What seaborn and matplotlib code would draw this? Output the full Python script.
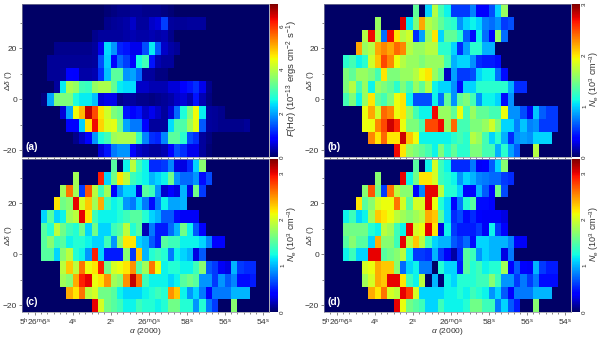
import numpy as np
import matplotlib
matplotlib.use("Agg")
import matplotlib.pyplot as plt
from matplotlib.colors import ListedColormap
import seaborn as sns

sns.set_theme(style="white")
plt.rcParams['font.family'] = ['Liberation Sans', 'DejaVu Sans']
plt.rcParams['mathtext.fontset'] = 'custom'
plt.rcParams['mathtext.rm'] = 'Liberation Sans'
plt.rcParams['mathtext.it'] = 'Liberation Sans:italic'

# F(Halpha), read by eye, 12 rows x 39 columns (missing right side is filled with 0)
flux_rows = [
    [0]*13 + [.1,.15,.2,.2,.25,.25,.2,.2,.2,.15,.1],
    [0]*13 + [.2,.25,.3,.35,.5,.3,.3,.5,.6,1.3,.3,.25,.25,.3,.3,.3],
    [0]*11 + [.2,.3,.3,.3,.3,.35,.4,.35,.35,.4,.35,.4,.2],
    [0]*5 + [.2,.2,.2,.2,.2,.2,.3,.7,2.4,1.9,1.1,1.0,.7,.7,1.4,2.5,1.5,.5,.35,.25],
    [0]*4 + [.25,.25,.25,.25,.25,.25,.25,.3,1.4,2.3,.9,1.6,1.3,.8,2.6,3.0,1.0,.4,.3,.3],
    [0]*4 + [.25,.25,.3,.9,.8,.35,.35,.4,1.2,2.2,3.2,3.2,1.9,2.0,1.6,.3,.3,.15,.15],
    [0]*5 + [.3,2.5,3.9,3.7,3.0,2.9,3.7,3.9,3.9,3.3,2.5,2.4,2.4,.5,.5,.4,.4,.4,.6,.6,.8,1.0,1.2,.7,.2],
    [0]*3 + [.15,2.0,3.5,3.5,3.5,2.7,2.5,2.5,2.2,.6,.7,.7,.2,.3,.3,.2,.2,.15,.2,.25,.35,.5,.6,.4,1.0,.4,.15],
    [0]*6 + [.6,2.0,4.5,5.0,6.6,5.8,4.7,4.2,3.5,3.3,1.0,.8,1.0,.5,.7,.5,.3,.6,1.6,2.7,3.5,4.5,2.5,.3,.25,.2],
    [0]*7 + [.8,.8,2.3,4.7,6.3,4.8,4.3,4.4,3.4,2.0,1.7,1.7,.9,.3,.3,.3,2.4,3.1,3.1,3.8,4.4,1.5,.3,.25,.2,.2,.2,.2,.25],
    [0]*8 + [.2,.5,.8,1.9,2.7,3.0,3.8,3.9,3.9,3.9,2.9,1.8,1.2,1.1,1.8,3.2,3.2,2.8,1.4,1.2,.3,.15],
    [0]*12 + [.6,1.0,1.7,1.9,1.9,.8,.5,.4,.3,.3,.4,.8,1.4,1.2,.7,.7,.3,.1],
]

# Ne from the ratio, panel (b)
ne_b_rows = [
    [0]*14 + [1.4,0,1.0,1.7,1.3,1.1,.55,.55,.55,.75,.35,.35,.6,1.0,1.6],
    [0]*8 + [1.6,0,0,0,2.75,1.05,1.5,2.2,1.7,1.6,1.4,1.25,1.2,.8,1.0,1.1,1.0,.75,.7,.8,.55,.6],
    [0]*6 + [1.7,2.7,1.7,.7,2.7,2.0,1.7,1.8,.5,.85,1.6,2.0,1.0,1.4,1.4,1.2,.65,.4,1.1,.7,.35,1.6,.7],
    [0]*5 + [2.2,1.6,1.7,2.2,2.3,2.2,2.4,2.3,1.7,1.6,1.6,1.7,1.7,1.2,1.2,1.0,.5,.85,1.2,1.2,.9,.9],
    [0]*3 + [1.2,1.3,1.1,1.2,1.8,2.1,2.5,2.3,1.9,1.7,1.6,1.6,1.5,1.6,1.6,1.6,1.3,.9,1.0,1.0,.8,.5,.45,.45,.4],
    [0]*3 + [1.5,1.4,1.6,1.6,1.5,1.3,2.0,1.5,1.5,1.6,1.6,1.7,1.9,2.0,1.6,1.4,.2,.85,.55,.55,.6,1.0,1.1,1.1,.7,.4],
    [0]*3 + [1.5,1.7,1.3,1.6,1.1,1.6,1.5,1.4,1.2,1.5,1.3,1.6,1.4,1.7,1.1,1.0,1.0,.8,.4,1.0,1.0,1.2,1.2,1.2,1.2,1.2,.9,.5,.5],
    [0]*3 + [1.3,1.5,1.1,1.6,2.0,1.4,1.3,1.5,1.9,2.0,1.1,.6,.6,.6,1.1,.7,1.4,.8,1.4,1.5,1.3,.8,1.1,1.1,1.0,.4,.8],
    [0]*6 + [1.9,2.2,1.8,2.4,2.3,1.9,2.0,1.6,1.3,1.1,1.1,2.7,1.6,1.6,1.4,1.9,1.3,1.6,1.4,1.4,1.3,1.3,1.9,.8,.8,.6,.3,.95,.65,.55,.55],
    [0]*6 + [1.9,1.9,2.3,2.5,2.8,2.6,1.9,1.5,1.5,1.3,2.5,2.5,2.7,1.6,2.4,1.3,1.3,1.5,1.5,1.6,1.8,1.5,1.0,1.0,.75,.95,.75,.8,.55,.55,.55],
    [0]*7 + [2.3,2.0,2.4,2.0,2.0,2.8,2.1,1.9,1.1,1.1,1.1,1.1,1.1,1.2,1.3,1.2,1.7,1.6,1.3,1.0,1.2,.9,.5,.8,.85,.8,1.0,1.0,1.0],
    [0]*11 + [2.7,2.0,1.6,1.5,1.4,1.3,1.1,1.5,1.2,1.4,1.2,1.2,1.5,1.5,1.3,1.3,.9,1.2,.85,.65,0,0,1.7],
]

# Ne, panel (c)
ne_c_rows = [
    [0]*14 + [1.5,0,1.2,1.9,1.4,1.2,.55,.55,.6,.85,.3,.3,.55,1.1,1.7],
    [0]*8 + [1.8,0,0,0,2.9,1.1,1.6,2.2,1.9,1.4,1.3,1.2,1.0,1.1,1.2,1.6,.9,.75,.75,.9,.45,.65],
    [0]*6 + [1.8,2.6,1.8,.6,2.7,1.9,1.4,1.8,.4,.9,1.1,1.1,.3,1.5,1.4,.9,.25,.4,.3,1.0,.3,1.6,.6],
    [0]*5 + [2.2,1.6,1.7,3.0,2.0,2.3,1.8,2.4,1.4,1.2,1.3,.9,.8,1.1,.8,.45,.8,1.2,.95,.95,1.0],
    [0]*3 + [1.1,1.5,1.1,1.2,1.8,1.9,3.0,2.2,1.4,1.2,1.2,1.2,1.3,1.4,1.5,1.5,1.3,1.1,1.0,.7,.7,.45,.35,.35,.35],
    [0]*3 + [1.5,1.3,1.9,1.6,1.4,1.3,1.6,1.1,1.6,1.1,1.1,1.4,1.5,1.9,1.3,1.5,.2,.8,.5,.5,.75,1.0,1.6,1.2,.7,.4],
    [0]*3 + [1.5,1.7,1.4,1.5,1.2,1.3,1.3,1.2,1.1,1.1,1.4,.9,1.7,2.2,2.2,1.1,1.0,.7,.5,1.5,1.4,1.4,1.2,1.2,1.2,1.1,.85,.4,.4],
    [0]*3 + [1.5,1.5,1.1,1.7,1.9,1.3,1.2,.9,2.9,1.1,.5,.5,.5,1.7,.6,2.3,1.0,1.3,1.4,1.3,.8,1.2,1.1,1.0,.3,.7],
    [0]*6 + [1.9,2.3,1.9,2.6,2.1,2.2,2.9,1.6,2.0,2.1,2.2,2.5,1.5,1.8,2.6,2.1,1.2,1.3,1.3,1.2,1.2,1.4,1.7,.7,.6,.35,.3,1.0,.6,.55,.55],
    [0]*6 + [1.8,1.7,2.4,2.9,3.0,2.1,2.2,2.5,1.8,1.7,2.5,3.1,2.6,1.4,1.2,1.2,1.2,1.1,1.2,1.5,1.6,1.5,.9,.9,.6,.9,.7,.85,.45,.45,.5],
    [0]*7 + [2.4,2.2,2.6,1.9,2.0,1.6,1.6,1.5,1.2,1.1,1.1,1.1,1.2,1.3,1.4,1.3,2.5,2.3,1.2,.9,1.1,.8,.4,.8,.8,.8,1.0,1.0,1.0],
    [0]*11 + [3.0,2.0,1.6,1.5,1.4,1.2,1.2,1.4,1.3,1.3,1.2,1.3,1.6,1.6,1.3,1.3,.9,1.3,.8,.6,0,0,1.7],
]

# Ne, panel (d)
ne_d_rows = [
    [0]*14 + [1.5,0,1.2,2.0,1.4,1.2,.55,.55,.55,.8,.35,.4,.7,1.1,1.7],
    [0]*8 + [1.7,0,0,0,3.0,1.2,1.6,2.2,2.2,2.0,1.4,1.3,1.2,.9,1.1,1.0,.85,.8,.75,.75,.6,.55],
    [0]*6 + [1.7,2.7,1.6,.6,2.6,1.9,1.7,1.7,.4,.85,3.0,3.0,1.9,1.3,1.3,1.1,.4,.4,1.0,.7,.4,1.6,.65],
    [0]*5 + [2.2,1.5,1.7,2.0,2.1,2.1,2.6,2.0,1.5,2.0,2.0,3.0,2.1,1.3,1.1,.4,.8,1.3,1.5,.45,.45,.4],
    [0]*3 + [1.2,1.4,1.1,1.2,1.8,2.3,2.2,2.1,1.9,1.8,1.7,1.8,1.9,2.4,2.3,1.5,1.1,.55,.65,.45,.55,.4,.35,.35,.35,.3],
    [0]*3 + [1.6,1.6,1.6,1.6,1.3,1.2,1.9,1.8,1.4,1.2,3.0,2.0,2.1,3.0,2.2,.3,1.2,.6,.5,.5,.5,.6,.35,1.2,.6,.4],
    [0]*3 + [1.5,1.7,1.5,1.5,1.1,2.4,1.7,1.7,1.4,3.0,1.9,2.3,1.9,1.4,1.1,1.0,1.0,.7,.6,.75,.45,1.1,1.1,1.0,1.0,1.0,.85,.35,.35],
    [0]*3 + [1.2,1.4,1.1,1.1,3.0,3.0,1.5,1.6,1.7,1.9,1.2,.6,.6,.55,1.0,.6,.35,.15,.55,1.5,1.4,.9,1.1,1.0,1.0,.3,.8],
    [0]*6 + [2.0,2.1,2.4,2.3,2.3,1.7,.75,1.1,1.2,.8,.8,0,1.3,1.1,1.1,.5,1.5,1.3,1.4,1.2,1.3,1.3,1.8,.4,.7,.4,.35,1.0,.6,.5,.5],
    [0]*6 + [1.8,2.0,2.4,2.3,3.0,3.0,2.2,1.4,1.2,1.9,0,1.0,.05,1.2,1.1,1.3,1.3,1.3,1.4,1.4,1.7,1.4,.9,.9,.6,.8,.6,.8,.45,.45,.45],
    [0]*7 + [2.4,2.2,2.6,2.0,1.9,3.0,2.8,2.0,1.1,1.1,1.1,1.1,1.2,1.2,1.3,1.2,1.4,1.3,1.2,.9,1.1,.7,.4,.8,.8,.8,1.0,1.0,1.0],
    [0]*11 + [3.0,2.1,1.6,1.5,1.4,1.1,1.1,1.4,1.2,1.2,1.2,1.3,1.6,1.6,1.4,1.4,.8,1.1,.7,.5,0,0,1.7],
]

ra_labels = ["5$^{\\rm h}$26$^{\\rm m}$6$^{\\rm s}$", "4$^{\\rm s}$", "2$^{\\rm s}$",
             "26$^{\\rm m}$0$^{\\rm s}$", "58$^{\\rm s}$", "56$^{\\rm s}$", "54$^{\\rm s}$"]
dec_labels = ["20", "0", "\u221220"]
flux_ticks = [0, 2, 4, 6]
ne_ticks = [0, 1, 2, 3]

W, H = 600.0, 337.0
n_cols = 39
txt = "#333333"

# jet, but the bottom is a darker navy like the original
jet = plt.get_cmap("jet")(np.linspace(0, 1, 256))
jet[:29, 2] = np.linspace(0.40, jet[28, 2], 29)
navy_jet = ListedColormap(jet)


def to_grid(rows):
    return np.array([r + [0] * (n_cols - len(r)) for r in rows], dtype=float)


def panel(rows, left, top, vmax, cticks, clabel, label_size, tag, show_x):
    ax = fig.add_axes([left / W, 1 - (top + 153) / H, 247 / W, 153 / H])
    cax = fig.add_axes([(left + 248) / W, 1 - (top + 153) / H, 8 / W, 153 / H])
    sns.heatmap(to_grid(rows), ax=ax, cbar_ax=cax, cmap=navy_jet, vmin=0, vmax=vmax,
                xticklabels=False, yticklabels=False)
    # 2 s of right ascension = 6 cells, 5 arcsec of declination = 1 cell
    ax.set_xticks([2, 8, 14, 20, 26, 32, 38])
    ax.set_xticks(np.arange(1, 39), minor=True)
    ax.set_yticks([7.47 - d / 5 for d in [20, 0, -20]])
    ax.set_yticks([7.47 - d / 5 for d in [30, 10, -10]], minor=True)
    ax.tick_params(axis="both", which="both", direction="out", color="#555555",
                   length=1.5, width=0.5, bottom=True, left=True, top=False, right=False, pad=1)
    ax.tick_params(axis="both", which="major", length=2.5)
    ax.set_yticklabels(dec_labels, fontsize=6, color=txt, rotation=0)
    ax.set_ylabel("$\\Delta\\delta$ (')", fontsize=6, color=txt)
    ax.yaxis.set_label_coords(-8 / 247, 0.5)
    if show_x:
        ax.set_xticklabels(ra_labels, fontsize=6, color=txt, rotation=0)
        ax.set_xlabel("$\\alpha$ (2000)", fontsize=6, color=txt, va="center")
        ax.xaxis.set_label_coords(0.5, -0.13)
    else:
        ax.set_xticklabels([])
    ax.text(0.016, 0.065, tag, transform=ax.transAxes, color="white", fontsize=7.5,
            fontweight="bold", va="center")
    for s in ax.spines.values():
        s.set_visible(True)
        s.set_color("#8a8a9a")
        s.set_linewidth(0.5)
    cb = ax.collections[0].colorbar
    cb.set_ticks(cticks)
    cb.set_ticklabels([str(t) for t in cticks], fontsize=4.5, rotation=90, va="center", color="#222222")
    cb.ax.tick_params(length=0, pad=1.5)
    cb.outline.set_visible(False)
    fig.text((left + 270) / W, 1 - (top + 75) / H, clabel, rotation=90, fontsize=label_size,
             color=txt, ha="center", va="center")


fig = plt.figure(figsize=(6.0, 3.37), dpi=100)
flux_label = "$F$(H$\\alpha$) (10$^{-13}$ ergs cm$^{-2}$ s$^{-1}$)"
ne_label = "$N_{\\rm e}$ (10$^{3}$ cm$^{-3}$)"
panel(flux_rows, 22, 4, 7.0, flux_ticks, flux_label, 6.8, "(a)", False)
panel(ne_b_rows, 324, 4, 3.0, ne_ticks, ne_label, 6.5, "(b)", False)
panel(ne_c_rows, 22, 159, 3.3, ne_ticks, ne_label, 6.5, "(c)", True)
panel(ne_d_rows, 324, 159, 3.3, ne_ticks, ne_label, 6.5, "(d)", True)

fig.savefig("out.png", dpi=100)
